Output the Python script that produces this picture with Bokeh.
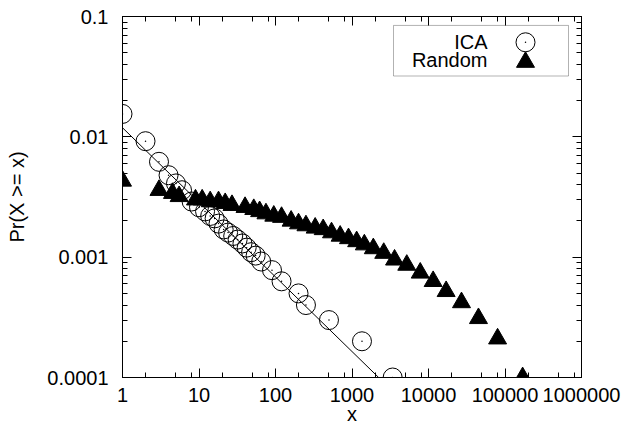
from bokeh.plotting import figure
from bokeh.models import FixedTicker, LogAxis, BoxAnnotation, Label
from bokeh.embed import file_html
from bokeh.resources import INLINE

# ---- data ----
ica_x = [1, 2, 3, 4, 5, 6, 8, 10, 12, 14, 16, 18, 21, 24, 28, 32, 37, 42, 48, 55, 65, 90, 120, 200, 250, 500, 1350, 3400]
ica_y = [0.0155, 0.0092, 0.0062, 0.0048, 0.0041, 0.0036, 0.0029, 0.0026, 0.0024, 0.0022, 0.0021, 0.0019, 0.0017,
         0.0016, 0.0015, 0.0014, 0.0013, 0.0012, 0.0011, 0.00103, 0.00092, 0.00078, 0.00063, 0.00050, 0.00040,
         0.00030, 0.00020, 0.00010]

rand_x = [1, 3, 4.5, 5.5, 9, 11, 14, 18, 22, 27, 40, 52, 62, 75, 95, 120, 160, 200, 250, 330, 420, 540, 700, 900,
          1150, 1450, 1900, 2600, 3600, 5200, 7800, 11500, 17000, 27000, 45000, 80000, 170000]
rand_y = [0.0043, 0.0036, 0.0034, 0.0032, 0.0030, 0.0030, 0.0029, 0.0029, 0.0028, 0.0027, 0.0026, 0.0025, 0.0024,
          0.0023, 0.0022, 0.00215, 0.0020, 0.0019, 0.00183, 0.00175, 0.0017, 0.0016, 0.0015, 0.00143, 0.00135,
          0.00127, 0.00118, 0.00108, 0.00095, 0.00086, 0.00074, 0.00063, 0.00052, 0.00042, 0.00031, 0.00021, 0.0001]

fit_x = [1, 2230]
fit_y = [0.0119, 0.0001]

x_ticks = [1, 10, 100, 1000, 10000, 100000, 1000000]
x_tick_labels = ["1", "10", "100", "1000", "10000", "100000", "1000000"]
y_ticks = [0.0001, 0.001, 0.01, 0.1]
y_tick_labels = ["0.0001", "0.001", "0.01", "0.1"]
x_minor_mult = [2, 5, 8]
y_minor_mult = [2, 3, 4, 5, 6, 7, 8, 9]

x_minor = [m * t for t in x_ticks[:-1] for m in x_minor_mult]
y_minor = [m * t for t in y_ticks[:-1] for m in y_minor_mult]

FONT = "Liberation Sans"
FS = "20px"

# frame geometry (picture pixels) used to lay out the plot and the key
FL, FR, FT, FB = 122, 581, 16, 380
def px_to_x(px):
    return 10 ** ((px - FL) / (FR - FL) * 6)
def py_to_y(py):
    return 10 ** (-4 + (FB - py) / (FB - FT) * 3)

W, H = 627, 427
p = figure(width=W, height=H, x_axis_type="log", y_axis_type="log",
           x_range=(1, 1e6), y_range=(1e-4, 0.1),
           output_backend="svg", toolbar_location=None,
           min_border_left=FL, min_border_right=W - FR,
           min_border_top=FT, min_border_bottom=H - FB)
p.background_fill_color = "white"
p.border_fill_color = "white"
p.outline_line_color = "black"
p.xgrid.visible = False
p.ygrid.visible = False

def style(ax, ticks, minor, labels, show):
    ax.ticker = FixedTicker(ticks=ticks, minor_ticks=minor)
    ax.axis_line_color = "black"
    ax.axis_line_width = 1
    ax.major_tick_in = 9
    ax.major_tick_out = 0
    ax.minor_tick_in = 5
    ax.minor_tick_out = 0
    ax.major_tick_line_color = "black"
    ax.minor_tick_line_color = "black"
    ax.major_label_overrides = {t: l for t, l in zip(ticks, labels)}
    if show:
        ax.major_label_text_font = FONT
        ax.major_label_text_font_size = FS
        ax.major_label_text_color = "black"
        ax.axis_label_text_font = FONT
        ax.axis_label_text_font_size = FS
        ax.axis_label_text_font_style = "normal"
        ax.axis_label_text_color = "black"
    else:
        ax.major_label_text_font_size = "1px"
        ax.major_label_text_alpha = 0
        ax.major_label_standoff = 0

style(p.xaxis[0], x_ticks, x_minor, x_tick_labels, True)
style(p.yaxis[0], y_ticks, y_minor, y_tick_labels, True)
p.xaxis[0].axis_label = "x"
p.yaxis[0].axis_label = "Pr(X >= x)"
p.xaxis[0].major_label_standoff = 10
p.xaxis[0].axis_label_standoff = -2
p.yaxis[0].major_label_standoff = 14
p.yaxis[0].axis_label_standoff = 16

top = LogAxis()
right = LogAxis()
style(top, x_ticks, x_minor, x_tick_labels, False)
style(right, y_ticks, y_minor, y_tick_labels, False)
p.add_layout(top, "above")
p.add_layout(right, "right")

# fitted line
p.line(fit_x, fit_y, line_color="black", line_width=1)

# data
p.scatter(ica_x, ica_y, marker="circle", size=19, fill_color=None, line_color="black", line_width=1)
p.scatter(ica_x, ica_y, marker="circle", size=1.5, fill_color="black", line_color=None)
p.scatter(rand_x, rand_y, marker="triangle", size=18, fill_color="black", line_color="black")

# key
box = BoxAnnotation(left=px_to_x(393), right=px_to_x(568), top=py_to_y(25), bottom=py_to_y(76),
                    fill_color="white", fill_alpha=1, line_color="black", line_width=1, level="underlay")
p.add_layout(box)
for txt, py in [("ICA", 42), ("Random", 60)]:
    p.add_layout(Label(x=px_to_x(487), y=py_to_y(py), text=txt, text_align="right", text_baseline="middle",
                       text_font=FONT, text_font_size=FS, text_color="black"))
key_x = [px_to_x(525)]
p.scatter(key_x, [py_to_y(42)], marker="circle", size=19, fill_color=None, line_color="black", line_width=1)
p.scatter(key_x, [py_to_y(42)], marker="circle", size=1.5, fill_color="black", line_color=None)
p.scatter(key_x, [py_to_y(62)], marker="triangle", size=18, fill_color="black", line_color="black")

open("out.html", "w").write(file_html(p, INLINE))
